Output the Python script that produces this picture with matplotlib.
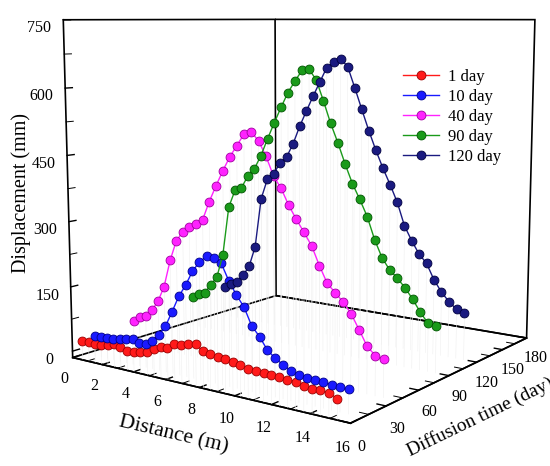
import matplotlib
matplotlib.use("Agg")
import matplotlib.pyplot as plt
from matplotlib.ticker import MultipleLocator

plt.rcParams["font.family"] = ["Liberation Serif", "DejaVu Serif"]
plt.rcParams["axes3d.automargin"] = False

# distance along the section (m), shared by every curve
DISTANCE = [0.6, 1.02, 1.44, 1.86, 2.28, 2.7, 3.12, 3.54, 3.96, 4.38, 4.8, 5.22,
            5.64, 6.06, 6.48, 6.9, 7.32, 7.74, 8.16, 8.58, 9.0, 9.42, 9.84, 10.26,
            10.68, 11.1, 11.52, 11.94, 12.36, 12.78, 13.2, 13.62, 14.04, 14.46, 14.88, 15.3]

DAYS = [1, 10, 40, 90, 120]
LABELS = ["1 day", "10 day", "40 day", "90 day", "120 day"]
COLORS = ["#ff1a1a", "#1a1aff", "#ff22ff", "#1a9a1a", "#1a1a80"]
EDGES = ["#9a0000", "#00008a", "#a000a0", "#005500", "#000040"]

# displacement (mm) for each diffusion time
DISP_1 = [28, 28, 27, 27, 32, 36, 33, 28, 29, 32, 35, 45, 54, 55, 66, 68, 73, 75,
          64, 61, 59, 57, 54, 52, 47, 45, 46, 44, 45, 42, 42, 36, 35, 35, 34, 26]
DISP_10 = [30, 32, 33, 33, 36, 39, 43, 38, 39, 49, 65, 88, 123, 160, 187, 220, 243, 257,
           256, 247, 212, 185, 162, 125, 106, 81, 67, 57, 47, 43, 39, 40, 39, 37, 35, 35]
DISP_40 = [40, 53, 58, 75, 99, 137, 201, 249, 272, 286, 295, 306, 349, 386, 421, 453, 479, 505,
           512, 493, 462, 420, 396, 361, 333, 307, 280, 240, 205, 188, 171, 149, 118, 86, 70, 66]
DISP_90 = [57, 69, 74, 97, 119, 178, 298, 341, 349, 379, 398, 431, 472, 511, 548, 583, 610, 635,
           638, 615, 568, 518, 475, 428, 385, 351, 314, 264, 225, 200, 184, 165, 142, 115, 93, 90]
DISP_120 = [60, 72, 79, 99, 125, 178, 303, 354, 370, 398, 414, 448, 492, 530, 567, 602, 637, 650,
            659, 640, 592, 542, 493, 448, 407, 370, 330, 277, 244, 215, 196, 160, 134, 114, 99, 93]
SERIES = [DISP_1, DISP_10, DISP_40, DISP_90, DISP_120]

X_TICKS = [0, 2, 4, 6, 8, 10, 12, 14, 16]
Y_TICKS = [0, 30, 60, 90, 120, 150, 180]
Z_TICKS = [0, 150, 300, 450, 600, 750]

fig = plt.figure(figsize=(5.5, 4.66), dpi=100)
ax = fig.add_axes([0.0375, -0.0138, 1.0116, 1.1939], projection="3d")
ax.set_proj_type("persp", focal_length=0.40)
ax.view_init(elev=8, azim=-54)
ax.set_box_aspect((1, 1, 1))
ax.set_xlim(0, 16)
ax.set_ylim(0, 180)
ax.set_zlim(-15, 750)
ax.grid(False)

# faint drop lines under each point
for day, vals in zip(DAYS, SERIES):
    for x, z in zip(DISTANCE, vals):
        ax.plot([x, x], [day, day], [-15, z], color="#efefef", lw=0.4, zorder=0)

handles = []
for day, vals, lab, c, ec in zip(DAYS, SERIES, LABELS, COLORS, EDGES):
    h, = ax.plot(DISTANCE, [day] * len(DISTANCE), vals, color=c, lw=1.0,
                 marker="o", ms=6.4, mfc=c, mec=ec, mew=0.6, label=lab)
    handles.append(h)

for axis in (ax.xaxis, ax.yaxis, ax.zaxis):
    axis.pane.fill = False
    axis.pane.set_alpha(1.0)
    axis.pane.set_edgecolor("black")
    axis.pane.set_linewidth(1.2)
    axis.line.set_color("black")
    axis.line.set_linewidth(1.2)
    axis._axinfo["tick"]["inward_factor"] = 0.0
    axis._axinfo["tick"]["outward_factor"] = 0.35
    axis._axinfo["tick"]["linewidth"] = {True: 1.0, False: 0.7}
    axis._axinfo["tick"]["color"] = "black"

ax.zaxis.set_ticks_position("lower")
ax.zaxis.set_label_position("lower")

ax.set_xticks(X_TICKS)
ax.set_yticks(Y_TICKS)
ax.set_zticks(Z_TICKS)
ax.xaxis.set_minor_locator(MultipleLocator(1))
ax.yaxis.set_minor_locator(MultipleLocator(15))
ax.zaxis.set_minor_locator(MultipleLocator(75))
ax.tick_params(axis="x", labelsize=11.5, pad=-1)
ax.tick_params(axis="y", labelsize=11.5, pad=-1)
ax.tick_params(axis="z", labelsize=11.5, pad=2)

ax.set_xlabel("Distance (m)", fontsize=15.5, labelpad=1)
ax.set_ylabel("Diffusion time (day)", fontsize=14, labelpad=0)
ax.zaxis.set_rotate_label(False)
ax.set_zlabel("Displacement (mm)", fontsize=14.5, rotation=90, labelpad=-1)

fig.legend(handles=handles, loc="upper left", bbox_to_anchor=(0.705, 0.885),
           frameon=False, fontsize=12, handlelength=2.2, labelspacing=0.24,
           handletextpad=0.5)

fig.savefig("out.png", dpi=100)
